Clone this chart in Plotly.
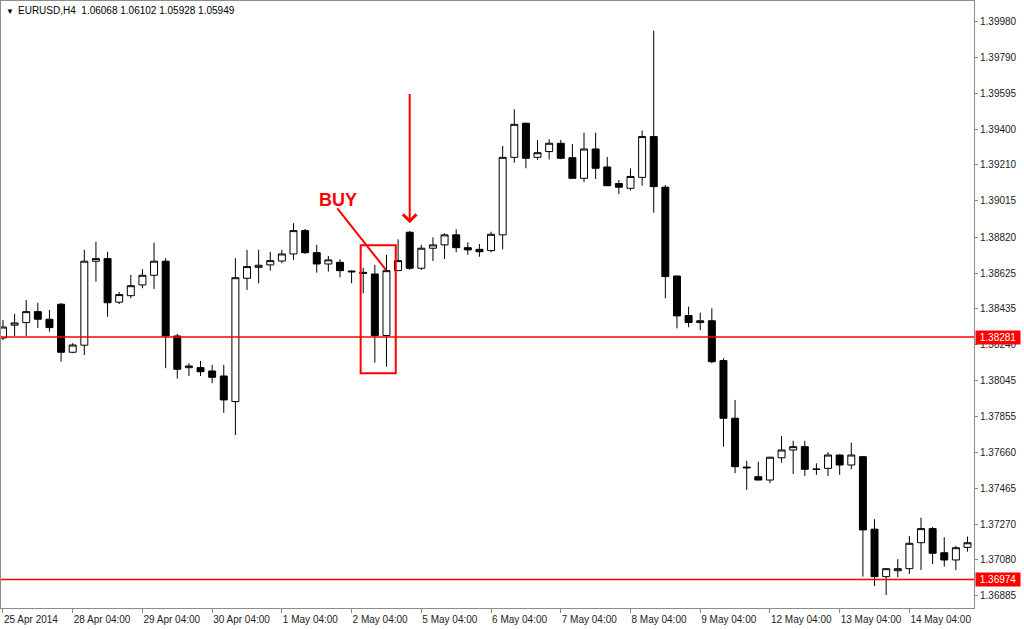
import plotly.graph_objects as go

# ---- data (EURUSD H4) ----
open_ = [1.38276, 1.38345, 1.38359, 1.38418, 1.38377, 1.38458, 1.38199, 1.38237, 1.38690, 1.38704,
         1.38469, 1.38504, 1.38562, 1.38614, 1.38690, 1.38287, 1.38116, 1.38116, 1.38098, 1.38071,
         1.37933, 1.38598, 1.38657, 1.38670, 1.38691, 1.38729, 1.38855, 1.38736, 1.38675, 1.38684,
         1.38637, 1.38630, 1.38621, 1.38289, 1.38639, 1.38846, 1.38652, 1.38760, 1.38778, 1.38832,
         1.38763, 1.38754, 1.38747, 1.38832, 1.39250, 1.39434, 1.39250, 1.39281, 1.39326, 1.39248,
         1.39137, 1.39295, 1.39198, 1.39109, 1.39083, 1.39142, 1.39362, 1.39089, 1.38610, 1.38397,
         1.38359, 1.38369, 1.38154, 1.37843, 1.37580, 1.37528, 1.37510, 1.37630, 1.37672, 1.37690,
         1.37570, 1.37573, 1.37645, 1.37591, 1.37636, 1.37245, 1.36989, 1.37021, 1.37032, 1.37172,
         1.37248, 1.37118, 1.37079, 1.37147]
high = [1.38373, 1.38406, 1.38481, 1.38466, 1.38427, 1.38465, 1.38248, 1.38751, 1.38795, 1.38741,
        1.38524, 1.38616, 1.38647, 1.38790, 1.38706, 1.38298, 1.38140, 1.38152, 1.38131, 1.38131,
        1.38706, 1.38751, 1.38751, 1.38741, 1.38751, 1.38895, 1.38864, 1.38778, 1.38718, 1.38700,
        1.38640, 1.38654, 1.38670, 1.38724, 1.38808, 1.38853, 1.38778, 1.38819, 1.38841, 1.38862,
        1.38792, 1.38783, 1.38849, 1.39311, 1.39509, 1.39436, 1.39344, 1.39348, 1.39344, 1.39322,
        1.39383, 1.39383, 1.39252, 1.39128, 1.39190, 1.39395, 1.39933, 1.39101, 1.38612, 1.38445,
        1.38413, 1.38436, 1.38167, 1.37942, 1.37613, 1.37609, 1.37635, 1.37748, 1.37722, 1.37722,
        1.37600, 1.37660, 1.37648, 1.37712, 1.37640, 1.37299, 1.37035, 1.37083, 1.37208, 1.37307,
        1.37257, 1.37201, 1.37155, 1.37205]
low = [1.38265, 1.38287, 1.38287, 1.38330, 1.38310, 1.38148, 1.38194, 1.38184, 1.38580, 1.38391,
       1.38459, 1.38490, 1.38544, 1.38540, 1.38113, 1.38057, 1.38071, 1.38071, 1.38032, 1.37873,
       1.37753, 1.38535, 1.38571, 1.38639, 1.38679, 1.38697, 1.38729, 1.38628, 1.38634, 1.38603,
       1.38571, 1.38517, 1.38143, 1.38121, 1.38637, 1.38643, 1.38643, 1.38691, 1.38702, 1.38738,
       1.38724, 1.38714, 1.38738, 1.38754, 1.39221, 1.39191, 1.39236, 1.39239, 1.39240, 1.39135,
       1.39116, 1.39133, 1.39095, 1.39053, 1.39071, 1.39097, 1.38952, 1.38490, 1.38328, 1.38334,
       1.38319, 1.38140, 1.37690, 1.37547, 1.37457, 1.37508, 1.37493, 1.37604, 1.37543, 1.37532,
       1.37538, 1.37532, 1.37538, 1.37568, 1.36989, 1.36939, 1.36890, 1.36986, 1.37004, 1.37025,
       1.37057, 1.37043, 1.37025, 1.37124]
close = [1.38335, 1.38357, 1.38418, 1.38377, 1.38332, 1.38199, 1.38238, 1.38690, 1.38704, 1.38466,
         1.38510, 1.38558, 1.38614, 1.38690, 1.38287, 1.38107, 1.38125, 1.38094, 1.38064, 1.37942,
         1.38601, 1.38661, 1.38668, 1.38693, 1.38729, 1.38855, 1.38736, 1.38675, 1.38697, 1.38639,
         1.38633, 1.38625, 1.38289, 1.38639, 1.38693, 1.38652, 1.38760, 1.38778, 1.38832, 1.38763,
         1.38751, 1.38741, 1.38835, 1.39250, 1.39428, 1.39245, 1.39275, 1.39326, 1.39245, 1.39137,
         1.39295, 1.39191, 1.39097, 1.39089, 1.39147, 1.39362, 1.39092, 1.38607, 1.38395, 1.38359,
         1.38369, 1.38148, 1.37843, 1.37582, 1.37576, 1.37510, 1.37633, 1.37672, 1.37690, 1.37568,
         1.37567, 1.37645, 1.37591, 1.37645, 1.37241, 1.36989, 1.37032, 1.37032, 1.37169, 1.37248,
         1.37115, 1.37079, 1.37145, 1.37172]
bar_index = list(range(len(open_)))

x_tick_bars = [0, 6, 12, 18, 24, 30, 36, 42, 48, 54, 60, 66, 72, 78]
x_tick_text = ["25 Apr 2014", "28 Apr 04:00", "29 Apr 04:00", "30 Apr 04:00", "1 May 04:00",
               "2 May 04:00", "5 May 04:00", "6 May 04:00", "7 May 04:00", "8 May 04:00",
               "9 May 04:00", "12 May 04:00", "13 May 04:00", "14 May 04:00"]
y_tick_values = [1.39980, 1.39790, 1.39595, 1.39400, 1.39210, 1.39015, 1.38820, 1.38625, 1.38435,
                 1.38240, 1.38045, 1.37855, 1.37660, 1.37465, 1.37270, 1.37080, 1.36885]

level_lines = [1.38281, 1.36974]
title_text = "EURUSD,H4\u00a0\u00a01.06068 1.06102 1.05928 1.05949"

# annotation geometry (in bar-index / price units)
buy_box = dict(x0=30.78, x1=33.80, y0=1.38086, y1=1.38776)
buy_label = dict(x=28.83, y=1.39020)
buy_line = dict(x0=28.77, y0=1.38975, x1=32.96, y1=1.38643)
sell_arrow = dict(x=35, y=1.38895, ay=1.39599)

RED = "#ff0000"
FONT = "Liberation Sans"

fig = go.Figure(go.Candlestick(
    x=bar_index, open=open_, high=high, low=low, close=close,
    increasing=dict(line=dict(color="black", width=1), fillcolor="white"),
    decreasing=dict(line=dict(color="black", width=1), fillcolor="black"),
    whiskerwidth=0, hoverinfo="skip", showlegend=False,
))

shapes = []
for lv in level_lines:
    shapes.append(dict(type="line", xref="paper", x0=0, x1=1, yref="y", y0=lv, y1=lv,
                       line=dict(color=RED, width=1.5)))
shapes.append(dict(type="rect", xref="x", yref="y", **buy_box, line=dict(color=RED, width=2)))
shapes.append(dict(type="line", xref="x", yref="y", **buy_line, line=dict(color=RED, width=2)))

annotations = [
    dict(xref="paper", yref="paper", x=0, y=1, xanchor="left", yanchor="top", xshift=3, yshift=-4,
         text="\u25bc", showarrow=False, font=dict(family=FONT, size=8, color="black")),
    dict(xref="paper", yref="paper", x=0, y=1, xanchor="left", yanchor="top", xshift=15, yshift=-2,
         text=title_text, showarrow=False, font=dict(family=FONT, size=10, color="black")),
    dict(xref="x", yref="y", x=buy_label["x"], y=buy_label["y"], text="<b>BUY</b>", showarrow=False,
         font=dict(family=FONT, size=18, color=RED)),
    dict(xref="x", yref="y", x=sell_arrow["x"], y=sell_arrow["y"], axref="x", ayref="y",
         ax=sell_arrow["x"], ay=sell_arrow["ay"], text="", showarrow=True, arrowhead=4,
         arrowsize=1.3, arrowwidth=2, arrowcolor=RED),
]
for lv in level_lines:
    annotations.append(dict(xref="paper", yref="y", x=1, y=lv, xanchor="left", yanchor="middle",
                            xshift=1, text=f"\u00a0{lv:.5f}\u00a0", showarrow=False, bgcolor=RED,
                            borderpad=1, font=dict(family=FONT, size=10, color="white")))

fig.update_layout(
    width=1024, height=629,
    margin=dict(l=1, r=50, t=1, b=21, autoexpand=False),
    paper_bgcolor="white", plot_bgcolor="white",
    boxgap=0.4, boxgroupgap=0,
    font=dict(family=FONT, size=10, color="#222"),
    shapes=shapes, annotations=annotations, showlegend=False,
)
fig.update_xaxes(range=[-0.17, 83.56], tickmode="array", tickvals=x_tick_bars, ticktext=x_tick_text,
                 ticks="outside", ticklen=4, tickcolor="#888", showgrid=False, zeroline=False,
                 showline=True, linecolor="#8c8c8c", linewidth=1, mirror=True, tickangle=0,
                 automargin=False, rangeslider=dict(visible=False), ticklabelposition="outside right",
                 ticklabelstandoff=2,
                 tickfont=dict(family=FONT, size=10, color="#222"))
fig.update_yaxes(side="right", range=[1.36820, 1.40093], tickmode="array", tickvals=y_tick_values,
                 ticktext=[f"{v:.5f}" for v in y_tick_values], ticks="outside", ticklen=3,
                 tickcolor="#888", showgrid=False, zeroline=False, showline=True, automargin=False,
                 linecolor="#8c8c8c", linewidth=1, mirror=True,
                 tickfont=dict(family=FONT, size=10, color="#222"))

fig.write_html("out.html", config=dict(displayModeBar=False),
               post_script="document.body.style.margin='0px';")
